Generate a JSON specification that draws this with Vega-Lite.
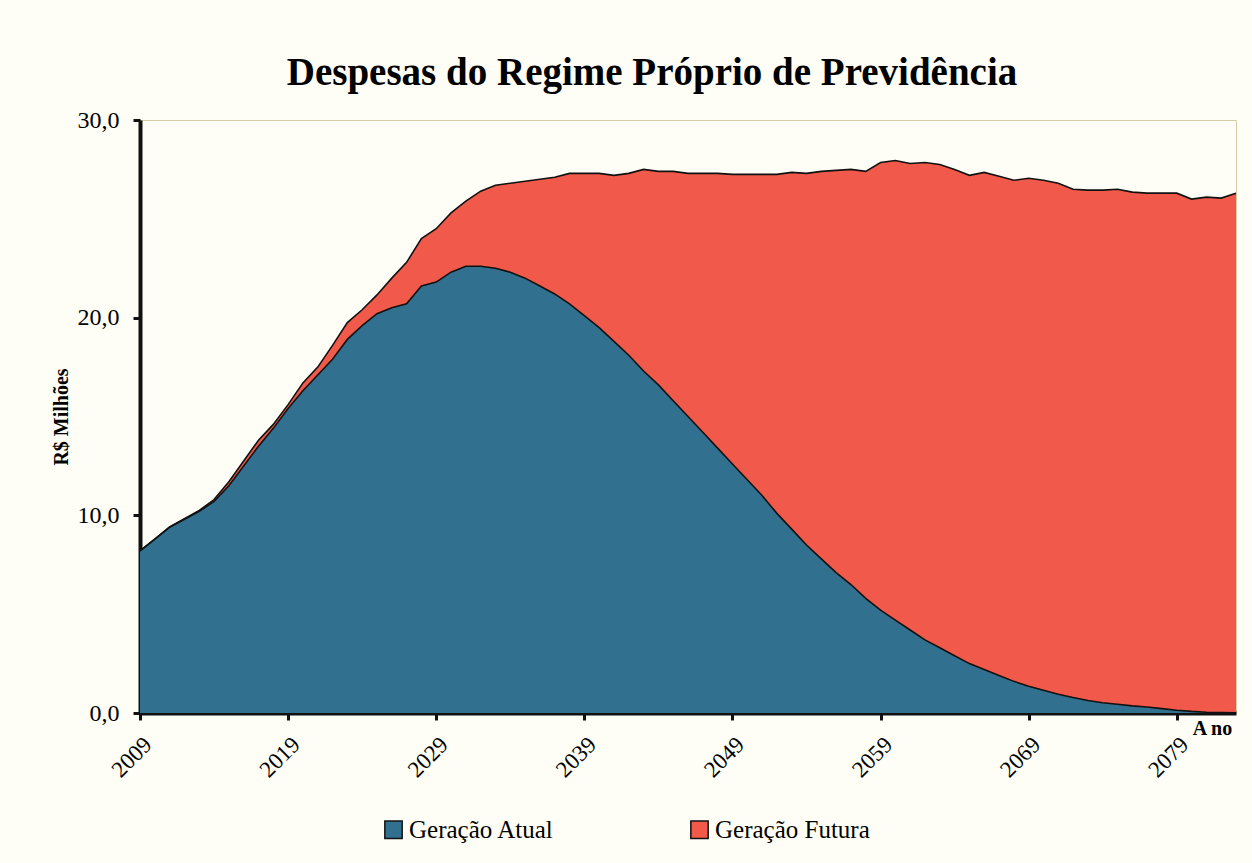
{
  "$schema": "https://vega.github.io/schema/vega-lite/v6.json",
  "width": 1096,
  "height": 593,
  "autosize": {"type": "none"},
  "padding": {"left": 140, "top": 120, "right": 16, "bottom": 150},
  "background": "#fefef6",
  "title": {
    "text": "Despesas do Regime Próprio de Previdência",
    "font": "Liberation Serif",
    "fontSize": 39,
    "fontWeight": "bold",
    "color": "#000000",
    "anchor": "middle",
    "dx": -36,
    "offset": 15
  },
  "config": {
    "view": {"stroke": "#d6cca8", "strokeWidth": 1},
    "axis": {
      "labelFont": "Liberation Serif",
      "titleFont": "Liberation Serif",
      "labelColor": "#000000",
      "titleColor": "#000000",
      "domainColor": "#111111",
      "tickColor": "#111111",
      "grid": false
    }
  },
  "data": {
    "values": [
      {"ano": 2009, "Geração Atual": 8.2, "Geração Futura": 0},
      {"ano": 2010, "Geração Atual": 8.8, "Geração Futura": 0},
      {"ano": 2011, "Geração Atual": 9.4, "Geração Futura": 0.02},
      {"ano": 2012, "Geração Atual": 9.8, "Geração Futura": 0.03},
      {"ano": 2013, "Geração Atual": 10.2, "Geração Futura": 0.05},
      {"ano": 2014, "Geração Atual": 10.7, "Geração Futura": 0.1},
      {"ano": 2015, "Geração Atual": 11.5, "Geração Futura": 0.2},
      {"ano": 2016, "Geração Atual": 12.5, "Geração Futura": 0.25},
      {"ano": 2017, "Geração Atual": 13.5, "Geração Futura": 0.3},
      {"ano": 2018, "Geração Atual": 14.4, "Geração Futura": 0.2},
      {"ano": 2019, "Geração Atual": 15.4, "Geração Futura": 0.2},
      {"ano": 2020, "Geração Atual": 16.3, "Geração Futura": 0.4},
      {"ano": 2021, "Geração Atual": 17.1, "Geração Futura": 0.4},
      {"ano": 2022, "Geração Atual": 17.9, "Geração Futura": 0.7},
      {"ano": 2023, "Geração Atual": 18.9, "Geração Futura": 0.85},
      {"ano": 2024, "Geração Atual": 19.6, "Geração Futura": 0.8},
      {"ano": 2025, "Geração Atual": 20.2, "Geração Futura": 0.95},
      {"ano": 2026, "Geração Atual": 20.5, "Geração Futura": 1.5},
      {"ano": 2027, "Geração Atual": 20.7, "Geração Futura": 2.1},
      {"ano": 2028, "Geração Atual": 21.6, "Geração Futura": 2.4},
      {"ano": 2029, "Geração Atual": 21.8, "Geração Futura": 2.7},
      {"ano": 2030, "Geração Atual": 22.3, "Geração Futura": 3.0},
      {"ano": 2031, "Geração Atual": 22.6, "Geração Futura": 3.3},
      {"ano": 2032, "Geração Atual": 22.6, "Geração Futura": 3.8},
      {"ano": 2033, "Geração Atual": 22.5, "Geração Futura": 4.2},
      {"ano": 2034, "Geração Atual": 22.3, "Geração Futura": 4.5},
      {"ano": 2035, "Geração Atual": 22.0, "Geração Futura": 4.9},
      {"ano": 2036, "Geração Atual": 21.6, "Geração Futura": 5.4},
      {"ano": 2037, "Geração Atual": 21.2, "Geração Futura": 5.9},
      {"ano": 2038, "Geração Atual": 20.7, "Geração Futura": 6.6},
      {"ano": 2039, "Geração Atual": 20.1, "Geração Futura": 7.2},
      {"ano": 2040, "Geração Atual": 19.5, "Geração Futura": 7.8},
      {"ano": 2041, "Geração Atual": 18.8, "Geração Futura": 8.4},
      {"ano": 2042, "Geração Atual": 18.1, "Geração Futura": 9.2},
      {"ano": 2043, "Geração Atual": 17.3, "Geração Futura": 10.2},
      {"ano": 2044, "Geração Atual": 16.6, "Geração Futura": 10.8},
      {"ano": 2045, "Geração Atual": 15.8, "Geração Futura": 11.6},
      {"ano": 2046, "Geração Atual": 15.0, "Geração Futura": 12.3},
      {"ano": 2047, "Geração Atual": 14.2, "Geração Futura": 13.1},
      {"ano": 2048, "Geração Atual": 13.4, "Geração Futura": 13.9},
      {"ano": 2049, "Geração Atual": 12.6, "Geração Futura": 14.65},
      {"ano": 2050, "Geração Atual": 11.8, "Geração Futura": 15.45},
      {"ano": 2051, "Geração Atual": 11.0, "Geração Futura": 16.25},
      {"ano": 2052, "Geração Atual": 10.1, "Geração Futura": 17.15},
      {"ano": 2053, "Geração Atual": 9.3, "Geração Futura": 18.05},
      {"ano": 2054, "Geração Atual": 8.5, "Geração Futura": 18.8},
      {"ano": 2055, "Geração Atual": 7.8, "Geração Futura": 19.6},
      {"ano": 2056, "Geração Atual": 7.1, "Geração Futura": 20.35},
      {"ano": 2057, "Geração Atual": 6.5, "Geração Futura": 21.0},
      {"ano": 2058, "Geração Atual": 5.8, "Geração Futura": 21.6},
      {"ano": 2059, "Geração Atual": 5.2, "Geração Futura": 22.65},
      {"ano": 2060, "Geração Atual": 4.7, "Geração Futura": 23.25},
      {"ano": 2061, "Geração Atual": 4.2, "Geração Futura": 23.6},
      {"ano": 2062, "Geração Atual": 3.7, "Geração Futura": 24.15},
      {"ano": 2063, "Geração Atual": 3.3, "Geração Futura": 24.45},
      {"ano": 2064, "Geração Atual": 2.9, "Geração Futura": 24.6},
      {"ano": 2065, "Geração Atual": 2.5, "Geração Futura": 24.7},
      {"ano": 2066, "Geração Atual": 2.2, "Geração Futura": 25.15},
      {"ano": 2067, "Geração Atual": 1.9, "Geração Futura": 25.25},
      {"ano": 2068, "Geração Atual": 1.6, "Geração Futura": 25.35},
      {"ano": 2069, "Geração Atual": 1.35, "Geração Futura": 25.7},
      {"ano": 2070, "Geração Atual": 1.15, "Geração Futura": 25.8},
      {"ano": 2071, "Geração Atual": 0.95, "Geração Futura": 25.85},
      {"ano": 2072, "Geração Atual": 0.78, "Geração Futura": 25.72},
      {"ano": 2073, "Geração Atual": 0.63, "Geração Futura": 25.82},
      {"ano": 2074, "Geração Atual": 0.52, "Geração Futura": 25.93},
      {"ano": 2075, "Geração Atual": 0.44, "Geração Futura": 26.06},
      {"ano": 2076, "Geração Atual": 0.36, "Geração Futura": 25.99},
      {"ano": 2077, "Geração Atual": 0.3, "Geração Futura": 26.0},
      {"ano": 2078, "Geração Atual": 0.22, "Geração Futura": 26.08},
      {"ano": 2079, "Geração Atual": 0.14, "Geração Futura": 26.16},
      {"ano": 2080, "Geração Atual": 0.08, "Geração Futura": 25.92},
      {"ano": 2081, "Geração Atual": 0.04, "Geração Futura": 26.06},
      {"ano": 2082, "Geração Atual": 0.02, "Geração Futura": 26.03},
      {"ano": 2083, "Geração Atual": 0.01, "Geração Futura": 26.29}
    ]
  },
  "transform": [
    {"fold": ["Geração Atual", "Geração Futura"], "as": ["geracao", "valor"]}
  ],
  "encoding": {
    "x": {
      "field": "ano",
      "type": "quantitative",
      "scale": {"domain": [2009, 2083], "nice": false, "zero": false},
      "axis": {
        "values": [2009, 2019, 2029, 2039, 2049, 2059, 2069, 2079],
        "format": "d",
        "labelAngle": -45,
        "labelFontSize": 23,
        "labelPadding": 13,
        "labelDx": -14,
        "labelFlush": false,
        "labelOverlap": false,
        "tickSize": 7,
        "tickWidth": 3,
        "domainWidth": 4,
        "title": "A no",
        "titleFontSize": 20,
        "titleFontWeight": "bold",
        "titleX": 1072,
        "titleY": 21,
        "titleAlign": "center",
        "titleBaseline": "alphabetic"
      }
    },
    "y": {
      "field": "valor",
      "type": "quantitative",
      "stack": "zero",
      "scale": {"domain": [0, 30], "nice": false},
      "axis": {
        "values": [0, 10, 20, 30],
        "labelExpr": "replace(format(datum.value, '.1f'), '.', ',')",
        "labelFontSize": 24,
        "labelPadding": 14,
        "tickSize": 7,
        "tickWidth": 3,
        "domainWidth": 4,
        "title": "R$ Milhões",
        "titleFontSize": 20,
        "titleFontWeight": "bold",
        "titlePadding": 6
      }
    },
    "order": {"field": "geracao", "sort": "ascending"}
  },
  "layer": [
    {
      "mark": {"type": "area", "opacity": 1},
      "encoding": {
        "color": {
          "field": "geracao",
          "type": "nominal",
          "scale": {"domain": ["Geração Atual", "Geração Futura"], "range": ["#31718f", "#f15a4a"]},
          "legend": {
            "title": null,
            "orient": "none",
            "legendX": 241,
            "legendY": 697,
            "direction": "horizontal",
            "symbolType": "square",
            "symbolSize": 300,
            "symbolStrokeColor": "#111111",
            "symbolStrokeWidth": 1.5,
            "symbolOpacity": 1,
            "labelFont": "Liberation Serif",
            "labelFontSize": 25,
            "labelColor": "#000000",
            "labelOffset": 3,
            "columnPadding": 132,
            "labelLimit": 400
          }
        }
      }
    },
    {
      "mark": {"type": "line", "color": "#111111", "strokeWidth": 1.6},
      "encoding": {
        "detail": {"field": "geracao", "type": "nominal"}
      }
    }
  ]
}
